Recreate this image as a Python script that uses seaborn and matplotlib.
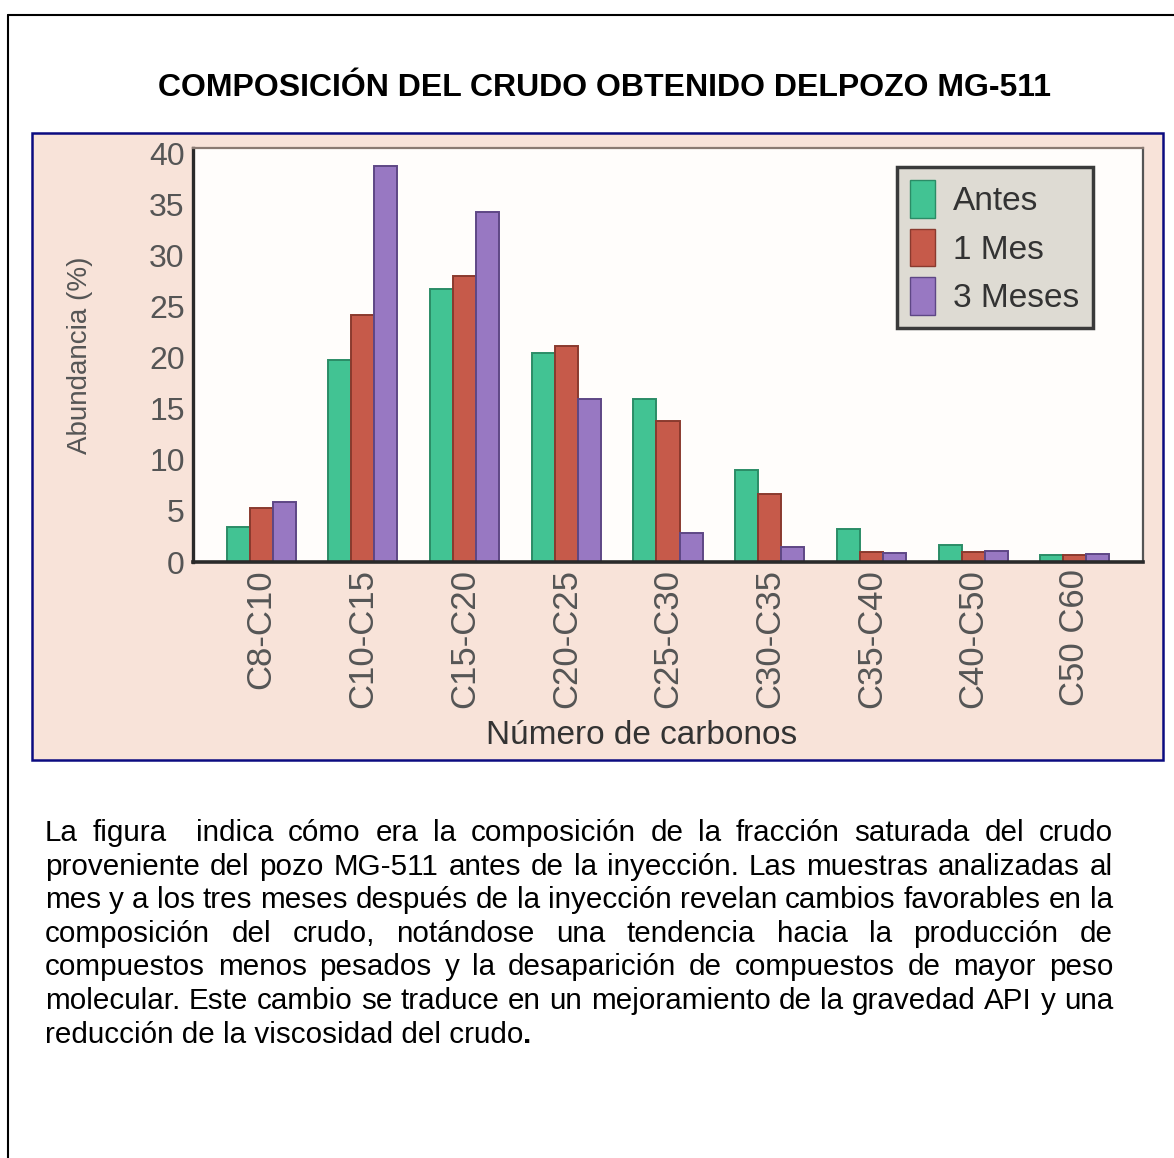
import numpy as np
import pandas as pd
import matplotlib
matplotlib.use("Agg")
import matplotlib.pyplot as plt
import seaborn as sns
from matplotlib.patches import Rectangle
from matplotlib.lines import Line2D

# ---------------- data ----------------
categorias = ["C8-C10", "C10-C15", "C15-C20", "C20-C25", "C25-C30",
              "C30-C35", "C35-C40", "C40-C50", "C50 C60"]
series = ["Antes", "1 Mes", "3 Meses"]
antes = [3.45, 19.8, 26.7, 20.4, 15.9, 9.0, 3.2, 1.7, 0.7]
un_mes = [5.25, 24.2, 28.0, 21.1, 13.8, 6.7, 1.0, 1.0, 0.7]
tres_meses = [5.9, 38.7, 34.2, 15.9, 2.8, 1.5, 0.9, 1.1, 0.8]
yticks = [0, 5, 10, 15, 20, 25, 30, 35, 40]

titulo = "COMPOSICIÓN DEL CRUDO OBTENIDO DELPOZO MG-511"
xlabel = "Número de carbonos"
ylabel = "Abundancia (%)"
parrafo = [
    "La figura  indica cómo era la composición de la fracción saturada del crudo",
    "proveniente del pozo MG-511 antes de la inyección. Las muestras analizadas al",
    "mes y a los tres meses después de la inyección revelan cambios favorables en la",
    "composición del crudo, notándose una tendencia hacia la producción de",
    "compuestos menos pesados y la desaparición de compuestos de mayor peso",
    "molecular. Este cambio se traduce en un mejoramiento de la gravedad API y una",
    "reducción de la viscosidad del crudo",
]

# ---------------- style ----------------
colores = ["#42c393", "#c65a4a", "#9878c2"]
bordes = ["#2b8c66", "#8a3a2e", "#5e4785"]

sns.set_theme(style="white")
plt.rcParams["font.family"] = ["Liberation Sans", "DejaVu Sans"]

W, H = 1174, 1158
fig = plt.figure(figsize=(W / 100, H / 100), dpi=100, facecolor="white")

def fx(px):
    return px / W

def fy(py):
    return 1 - py / H

# outer page frame (left and top)
fig.add_artist(Line2D([fx(8), fx(8)], [0, fy(15)], color="black", lw=1.5,
                      transform=fig.transFigure))
fig.add_artist(Line2D([fx(8), 1], [fy(15), fy(15)], color="black", lw=1.5,
                      transform=fig.transFigure))

# peach chart panel with navy border
fig.add_artist(Rectangle((fx(32), fy(760)), fx(1163 - 32), (760 - 133) / H,
                         transform=fig.transFigure, facecolor="#f8e3d9",
                         edgecolor="#0b0b80", lw=1.8, zorder=0))

# title
fig.text(fx(604), fy(88), titulo, ha="center", va="center", fontsize=23,
         fontweight="bold", color="black")

# ---------------- chart ----------------
ax = fig.add_axes([fx(193), fy(562), fx(1143 - 193), (562 - 148) / H])
ax.set_facecolor("#fffdfb")

df = pd.DataFrame({
    "rango": categorias * 3,
    "muestra": np.repeat(series, len(categorias)),
    "abundancia": antes + un_mes + tres_meses,
})
sns.barplot(data=df, x="rango", y="abundancia", hue="muestra",
            hue_order=series, order=categorias, palette=colores,
            width=0.68, saturation=1, ax=ax, errorbar=None)
for cont, ec in zip(ax.containers, bordes):
    for p in cont:
        p.set_edgecolor(ec)
        p.set_linewidth(1.4)

ax.set_xlim(-0.67, len(categorias) - 0.33)
ax.set_ylim(0, 40.5)
ax.set_yticks(yticks)
ax.set_yticklabels([str(v) for v in yticks])
ax.tick_params(axis="y", length=0, pad=6, labelsize=23, labelcolor="#555555")
ax.tick_params(axis="x", length=0, pad=5, labelsize=25, labelcolor="#555555",
               labelrotation=90)

for side, col, lw in [("left", "#2a2a2a", 2.4), ("bottom", "#2a2a2a", 2.6),
                      ("top", "#8a7a72", 1.6), ("right", "#555555", 1.6)]:
    ax.spines[side].set_visible(True)
    ax.spines[side].set_color(col)
    ax.spines[side].set_linewidth(lw)

ax.set_xlabel(xlabel, fontsize=24, color="#333333")
ax.xaxis.set_label_coords((642 - 193) / 950, (562 - 735) / 414)
ax.xaxis.label.set_va("center")
ax.set_ylabel(ylabel, fontsize=20, color="#555555")
ax.yaxis.set_label_coords((80 - 193) / 950, 0.5)
ax.yaxis.label.set_va("center")

leg = ax.legend(title=None, loc="upper right",
                bbox_to_anchor=((1093 - 193) / 950, (562 - 167) / 414),
                borderaxespad=0, fontsize=24, handlelength=0.75,
                handleheight=1.35, handletextpad=0.55, labelspacing=0.33,
                borderpad=0.4, fancybox=False, framealpha=1)
leg.get_frame().set_facecolor("#dedbd3")
leg.get_frame().set_edgecolor("#3a3a3a")
leg.get_frame().set_linewidth(2.5)
for t in leg.get_texts():
    t.set_color("#333333")
for h, ec in zip(leg.legend_handles, bordes):
    h.set_edgecolor(ec)

# ---------------- justified paragraph ----------------
fig.canvas.draw()
renderer = fig.canvas.get_renderer()

def ancho(s, fs, weight="normal"):
    if s == "":
        return 0.0
    t = fig.text(0, 0, s, fontsize=fs, fontweight=weight)
    w = t.get_window_extent(renderer).width
    t.remove()
    return w

x0, x1 = 45, 1113
base = ancho(parrafo[2], 20)
fs = 20 * (x1 - x0) / base
base0 = 841
paso = 33.6

for i, linea in enumerate(parrafo):
    yb = base0 + paso * i
    if i < len(parrafo) - 1:
        palabras = linea.split(" ")
        ws = [ancho(p, fs) for p in palabras]
        gap = (x1 - x0 - sum(ws)) / (len(palabras) - 1)
        x = x0
        for p, w in zip(palabras, ws):
            if p:
                fig.text(fx(x), fy(yb), p, ha="left", va="baseline",
                         fontsize=fs, color="black")
            x += w + gap
    else:
        fig.text(fx(x0), fy(yb), linea, ha="left", va="baseline",
                 fontsize=fs, color="black")
        w = ancho(linea, fs)
        fig.text(fx(x0 + w), fy(yb), ".", ha="left", va="baseline",
                 fontsize=fs, fontweight="bold", color="black")

fig.savefig("out.png", dpi=100, facecolor="white")
